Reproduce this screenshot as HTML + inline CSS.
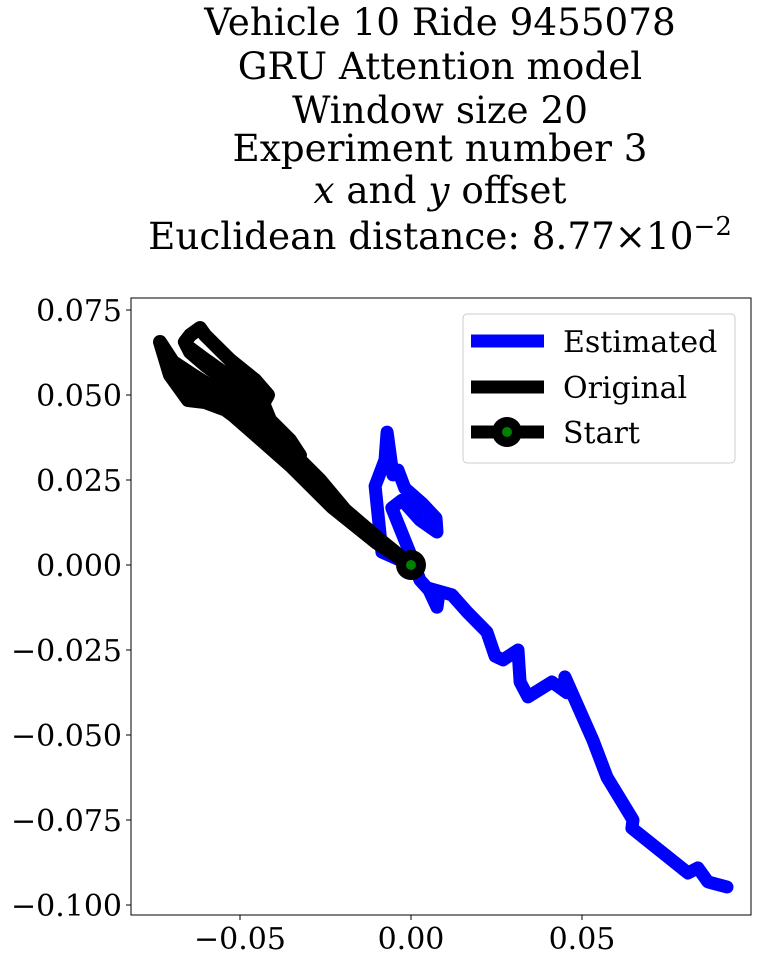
<!DOCTYPE html>
<html><head><meta charset="utf-8"><style>
html,body{margin:0;padding:0;background:#fff}
svg text{font-family:"DejaVu Serif","Liberation Serif",serif;fill:#000}
</style></head><body>
<svg id="c" width="758" height="961" xmlns="http://www.w3.org/2000/svg">
<g font-size="37.3" text-anchor="middle">
<text x="440" y="35">Vehicle 10 Ride 9455078</text>
<text x="440" y="79">GRU Attention model</text>
<text x="440" y="123">Window size 20</text>
<text x="440" y="161">Experiment number 3</text>
<text x="440" y="203"><tspan font-style="italic">x</tspan> and <tspan font-style="italic">y</tspan> offset</text>
<text x="440" y="249">Euclidean distance: 8.77×10<tspan dy="-14" font-size="26">−2</tspan></text>
</g>
<g id="plot"></g>
</svg>
<script>
const xTicks=[-0.05,0,0.05];
const xTickLabels=["−0.05","0.00","0.05"];
const yTicks=[0.075,0.05,0.025,0,-0.025,-0.05,-0.075,-0.1];
const yTickLabels=["0.075","0.050","0.025","0.000","−0.025","−0.050","−0.075","−0.100"];
const estX=[0,-0.0085,-0.0105,-0.0076,-0.0070,-0.0053,-0.0038,-0.0018,0.0032,0.0073,0.0076,0.0026,-0.0026,-0.0056,-0.0003,0.0026,0.0079,0.0076,0.0050,0.0120,0.0164,0.0222,0.0246,0.0269,0.0313,0.0319,0.0342,0.0412,0.0456,0.0450,0.0532,0.0573,0.0649,0.0646,0.0810,0.0839,0.0868,0.0924];
const estY=[0,0.0038,0.0232,0.0309,0.0391,0.0265,0.0279,0.0226,0.0182,0.0138,0.0097,0.0132,0.0191,0.0168,0.0035,-0.0044,-0.0103,-0.0124,-0.0068,-0.0088,-0.0138,-0.0197,-0.0268,-0.0279,-0.0250,-0.0344,-0.0388,-0.0344,-0.0376,-0.0329,-0.0515,-0.0624,-0.0750,-0.0774,-0.0906,-0.0891,-0.0932,-0.0947];
const origX=[0,-0.0076,-0.0135,-0.0184,-0.0213,-0.0266,-0.0325,-0.0398,-0.0447,-0.0500,-0.0602,-0.0652,-0.0705,-0.0734,-0.0690,-0.0632,-0.0558,-0.0471,-0.0412,-0.0368,-0.0325,-0.0354,-0.0412,-0.0436,-0.0485,-0.0544,-0.0602,-0.0646,-0.0661,-0.0646,-0.0617,-0.0602,-0.0529,-0.0456,-0.0418,-0.0442,-0.0485,-0.0412,-0.0325,-0.0266,-0.0193,-0.0091,0,-0.0100,-0.0230,-0.0350,-0.0440,-0.0520,-0.0600,-0.0660,-0.0700,-0.0640,-0.0560,-0.0490,-0.0440,-0.0470,-0.0540,-0.0610,-0.0650,-0.0580,-0.0500,-0.0430,-0.0380,-0.0300,-0.0200,-0.0100,0];
const origY=[0,0.0053,0.0094,0.0138,0.0176,0.0235,0.0279,0.0338,0.0388,0.0441,0.0479,0.0485,0.0559,0.0656,0.0588,0.0515,0.0470,0.0441,0.0397,0.0353,0.0323,0.0368,0.0426,0.0485,0.0500,0.0544,0.0588,0.0626,0.0656,0.0676,0.0697,0.0676,0.0603,0.0544,0.0500,0.0456,0.0426,0.0368,0.0309,0.0250,0.0162,0.0074,0,0.0065,0.0170,0.0290,0.0370,0.0440,0.0500,0.0540,0.0600,0.0560,0.0510,0.0470,0.0470,0.0510,0.0560,0.0610,0.0640,0.0580,0.0520,0.0430,0.0370,0.0280,0.0160,0.0070,0];
const startPt=[0,0];

const NS="http://www.w3.org/2000/svg";
const L=131,R=751,T=298,B=915;
const sx=v=>411+v*3420;
const sy=v=>565-v*3400;
const g=document.getElementById('plot');
function mk(t,a,p){const e=document.createElementNS(NS,t);for(const k in a)e.setAttribute(k,a[k]);(p||g).appendChild(e);return e;}
function pathD(xs,ys){return xs.map((x,i)=>(i?'L':'M')+sx(x).toFixed(1)+' '+sy(ys[i]).toFixed(1)).join(' ');}

const est=mk('path',{d:pathD(estX,estY),fill:'none',stroke:'#0000ff','stroke-width':13,'stroke-linejoin':'round','stroke-linecap':'round'});


const org=mk('path',{d:pathD(origX,origY),fill:'none',stroke:'#000','stroke-width':14,'stroke-linejoin':'round','stroke-linecap':'round'});


const sm=mk('circle',{cx:sx(startPt[0]),cy:sy(startPt[1]),r:15,fill:'#000'});


mk('circle',{cx:sx(startPt[0]),cy:sy(startPt[1]),r:5,fill:'#008000'});

const fr=mk('rect',{x:L,y:T,width:R-L,height:B-T,fill:'none',stroke:'#000','stroke-width':1});



xTicks.forEach((v,i)=>{
  mk('line',{x1:sx(v),x2:sx(v),y1:B,y2:B+5,stroke:'#000'});
  const t=mk('text',{x:sx(v),y:B+34,'font-size':30,'text-anchor':'middle'});
  t.textContent=xTickLabels[i];
  
  
});
yTicks.forEach((v,i)=>{
  mk('line',{x1:L-5,x2:L,y1:sy(v),y2:sy(v),stroke:'#000'});
  const t=mk('text',{x:L-9,y:sy(v)+11,'font-size':30,'text-anchor':'end'});
  t.textContent=yTickLabels[i];
  
  
});

const lg=mk('g',{});


mk('rect',{x:463,y:314,width:272,height:149,rx:4,fill:'#fff',stroke:'#ccc'},lg);
const items=[["Estimated","#0000ff",341],["Original","#000",387],["Start","#000",432]];
items.forEach((it,i)=>{
  mk('line',{x1:471,x2:544,y1:it[2],y2:it[2],stroke:it[1],'stroke-width':13},lg);
  if(i==2){mk('circle',{cx:507,cy:it[2],r:15,fill:'#000'},lg);mk('circle',{cx:507,cy:it[2],r:5,fill:'#008000'},lg);}
  const t=mk('text',{x:563,y:it[2]+11,'font-size':30},lg);
  t.textContent=it[0];
  
  
});
</script>
</body></html>
